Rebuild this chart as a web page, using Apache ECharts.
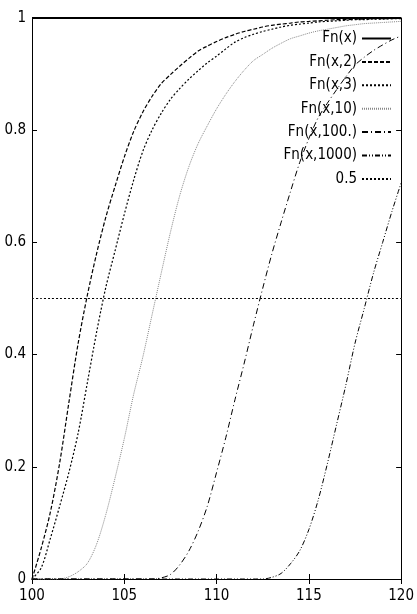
<!DOCTYPE html>
<html><head><meta charset="utf-8">
<script src="https://cdn.jsdelivr.net/npm/echarts@6/dist/echarts.min.js"></script>
<style>html,body{margin:0;padding:0;background:#fff}#c{width:417px;height:614px}</style>
</head><body><div id="c"></div>
<script>
const xs = [100,100.5,101,101.5,102,102.5,103,103.5,104,104.5,105,105.5,106,106.5,107,107.5,108,108.5,109,109.5,110,110.5,111,111.5,112,112.5,113,113.5,114,114.5,115,115.5,116,116.5,117,117.5,118,118.5,119,119.5,120];
const fnX    = [1,1,1,1,1,1,1,1,1,1,1,1,1,1,1,1,1,1,1,1,1,1,1,1,1,1,1,1,1,1,1,1,1,1,1,1,1,1,1,1,1];
const fnX2   = [0,0.055,0.12,0.207,0.315,0.42,0.506,0.58,0.645,0.7,0.752,0.797,0.832,0.86,0.883,0.899,0.914,0.928,0.941,0.95,0.958,0.965,0.971,0.976,0.98,0.984,0.987,0.989,0.991,0.993,0.994,0.995,0.996,0.997,0.997,0.998,0.998,0.999,0.999,0.999,1.0];
const fnX3   = [0,0.02,0.073,0.13,0.19,0.26,0.35,0.44,0.52,0.585,0.65,0.71,0.762,0.8,0.83,0.855,0.874,0.891,0.906,0.92,0.932,0.945,0.957,0.965,0.971,0.976,0.98,0.984,0.987,0.989,0.991,0.993,0.994,0.995,0.996,0.997,0.997,0.998,0.998,0.999,0.999];
const fnX10  = [0,0,0,0,0.004,0.013,0.028,0.062,0.115,0.18,0.25,0.328,0.395,0.47,0.545,0.618,0.683,0.735,0.776,0.808,0.838,0.864,0.887,0.907,0.924,0.935,0.946,0.955,0.963,0.968,0.973,0.977,0.98,0.983,0.986,0.988,0.99,0.991,0.992,0.993,0.994];
const fnX100 = [0,0,0,0,0,0,0,0,0,0,0,0,0,0,0.002,0.008,0.025,0.05,0.085,0.13,0.19,0.252,0.32,0.385,0.453,0.518,0.58,0.636,0.69,0.742,0.785,0.822,0.848,0.872,0.895,0.916,0.93,0.942,0.952,0.961,0.968];
const fnX1000= [0,0,0,0,0,0,0,0,0,0,0,0,0,0,0,0,0,0,0,0,0,0,0,0,0,0,0.003,0.01,0.027,0.05,0.088,0.14,0.205,0.275,0.345,0.42,0.482,0.545,0.6,0.655,0.706];
const half   = [0.5,0.5,0.5,0.5,0.5,0.5,0.5,0.5,0.5,0.5,0.5,0.5,0.5,0.5,0.5,0.5,0.5,0.5,0.5,0.5,0.5,0.5,0.5,0.5,0.5,0.5,0.5,0.5,0.5,0.5,0.5,0.5,0.5,0.5,0.5,0.5,0.5,0.5,0.5,0.5,0.5];
const names  = ['Fn(x)','Fn(x,2)','Fn(x,3)','Fn(x,10)','Fn(x,100.)','Fn(x,1000)','0.5'];
const xTicks = [100,105,110,115,120];
const yTicks = [0,0.2,0.4,0.6,0.8,1];

const FONT = '"Liberation Sans Narrow","DejaVu Sans Condensed","Liberation Sans",sans-serif';
const pair = ys => xs.map((x,i)=>[x,ys[i]]);
const styles = [
  {color:'#000', width:2, type:'solid'},
  {color:'#000', width:1.2, type:[4,2]},
  {color:'#000', width:1.2, type:[2,2]},
  {color:'#888', width:1, type:[1,1]},
  {color:'#000', width:1, type:[6,3,1,3]},
  {color:'#000', width:1, type:[5,2,1,2,1,2]},
  {color:'#000', width:1, type:[2,2]}
];
const values = [fnX,fnX2,fnX3,fnX10,fnX100,fnX1000,half];
const chart = echarts.init(document.getElementById('c'));
const axisCommon = {
  axisLine:{show:true,lineStyle:{color:'#000',width:1}},
  axisTick:{show:true,inside:true,length:5,lineStyle:{color:'#000'}},
  splitLine:{show:false}
};
chart.setOption({
  animation:false,
  backgroundColor:'#fff',
  grid:{left:32,right:12,top:18,bottom:35},
  legend:{
    orient:'vertical', right:25, top:31, align:'right', padding:0,
    itemWidth:29, itemHeight:14, itemGap:8.4,
    itemStyle:{opacity:0},
    textStyle:{fontFamily:FONT,fontSize:15,color:'#000',lineHeight:14},
    data:names
  },
  xAxis:[
    Object.assign({type:'value',min:xTicks[0],max:xTicks[xTicks.length-1],interval:5,position:'bottom',
      axisLabel:{fontFamily:FONT,fontSize:15,color:'#000',margin:10}},axisCommon),
    Object.assign({type:'value',min:xTicks[0],max:xTicks[xTicks.length-1],interval:5,position:'top',
      axisLabel:{show:false}},axisCommon)
  ],
  yAxis:[
    Object.assign({type:'value',min:yTicks[0],max:yTicks[yTicks.length-1],interval:0.2,position:'left',
      axisLabel:{fontFamily:FONT,fontSize:15,color:'#000',margin:6,formatter:v=>String(+v.toFixed(1))}},axisCommon),
    Object.assign({type:'value',min:yTicks[0],max:yTicks[yTicks.length-1],interval:0.2,position:'right',
      axisLabel:{show:false}},axisCommon)
  ],
  series: names.map((n,i)=>({
    name:n, type:'line', data:pair(values[i]), showSymbol:false, symbol:'none',
    smooth:0.3, clip:false, z: i===0?5:2,
    lineStyle:{color:styles[i].color,width:styles[i].width,type:styles[i].type},
    itemStyle:{color:styles[i].color}
  }))
});
</script></body></html>
